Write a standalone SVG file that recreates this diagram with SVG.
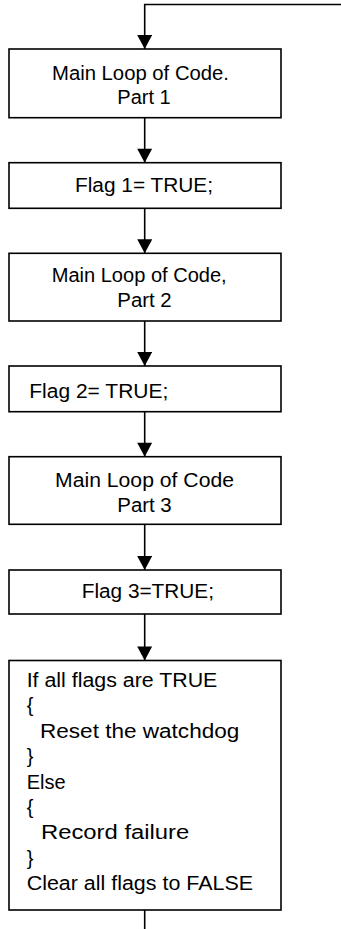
<svg xmlns="http://www.w3.org/2000/svg" width="341" height="929" viewBox="0 0 341 929">
<style>
.box{fill:#fff;stroke:#000;stroke-width:1.6}
.con{fill:none;stroke:#000;stroke-width:1.6}
text{font-family:"Liberation Sans",Arial,sans-serif;font-size:20px;fill:#000}
</style>
<defs>
<marker id="arr" markerUnits="userSpaceOnUse" markerWidth="16" markerHeight="15" refX="15" refY="7.5" orient="auto" viewBox="0 0 16 15">
<path d="M1,0 L15,7.5 L1,15 Z" fill="#000"/>
</marker>
</defs>
<g id="connectors">
<path class="con" d="M341,4.5 H144.7 V49" marker-end="url(#arr)"/>
<path class="con" d="M144.7,117.7 V162.7" marker-end="url(#arr)"/>
<path class="con" d="M144.7,208.3 V253.3" marker-end="url(#arr)"/>
<path class="con" d="M144.7,321 V366" marker-end="url(#arr)"/>
<path class="con" d="M144.7,411.7 V456.7" marker-end="url(#arr)"/>
<path class="con" d="M144.7,524.3 V570" marker-end="url(#arr)"/>
<path class="con" d="M144.7,614 V660.5" marker-end="url(#arr)"/>
<path class="con" d="M144.7,910 V929"/>
</g>
<g id="node1">
<rect class="box" x="9" y="49" width="272" height="68.7"/>
<text x="52" y="79.5" textLength="177" lengthAdjust="spacingAndGlyphs">Main Loop of Code.</text>
<text x="117.3" y="103.5" textLength="53.4" lengthAdjust="spacingAndGlyphs">Part 1</text>
</g>
<g id="node2">
<rect class="box" x="9" y="162.7" width="272" height="45.6"/>
<text x="75" y="191.7" textLength="138" lengthAdjust="spacingAndGlyphs">Flag 1= TRUE;</text>
</g>
<g id="node3">
<rect class="box" x="9" y="253.3" width="272" height="67.7"/>
<text x="51.7" y="281.7" textLength="175" lengthAdjust="spacingAndGlyphs">Main Loop of Code,</text>
<text x="117.3" y="306.7" textLength="54.4" lengthAdjust="spacingAndGlyphs">Part 2</text>
</g>
<g id="node4">
<rect class="box" x="9" y="366" width="272" height="45.7"/>
<text x="29.3" y="398" textLength="139" lengthAdjust="spacingAndGlyphs">Flag 2= TRUE;</text>
</g>
<g id="node5">
<rect class="box" x="9" y="456.7" width="272" height="67.6"/>
<text x="55" y="486.7" textLength="179" lengthAdjust="spacingAndGlyphs">Main Loop of Code</text>
<text x="117.3" y="511.7" textLength="54.4" lengthAdjust="spacingAndGlyphs">Part 3</text>
</g>
<g id="node6">
<rect class="box" x="9" y="570" width="272" height="44"/>
<text x="81.7" y="598.3" textLength="132.3" lengthAdjust="spacingAndGlyphs">Flag 3=TRUE;</text>
</g>
<g id="node7">
<rect class="box" x="9" y="660.5" width="272" height="249.5"/>
<text x="26.7" y="687" textLength="190.6" lengthAdjust="spacingAndGlyphs">If all flags are TRUE</text>
<text x="26.7" y="712.4">{</text>
<text x="40" y="737.8" textLength="199.3" lengthAdjust="spacingAndGlyphs">Reset the watchdog</text>
<text x="26.7" y="763.2">}</text>
<text x="26.7" y="788.6">Else</text>
<text x="26.7" y="814">{</text>
<text x="41" y="839.4" textLength="148.3" lengthAdjust="spacingAndGlyphs">Record failure</text>
<text x="26.7" y="864.8">}</text>
<text x="26.7" y="890.2" textLength="226.3" lengthAdjust="spacingAndGlyphs">Clear all flags to FALSE</text>
</g>
</svg>
